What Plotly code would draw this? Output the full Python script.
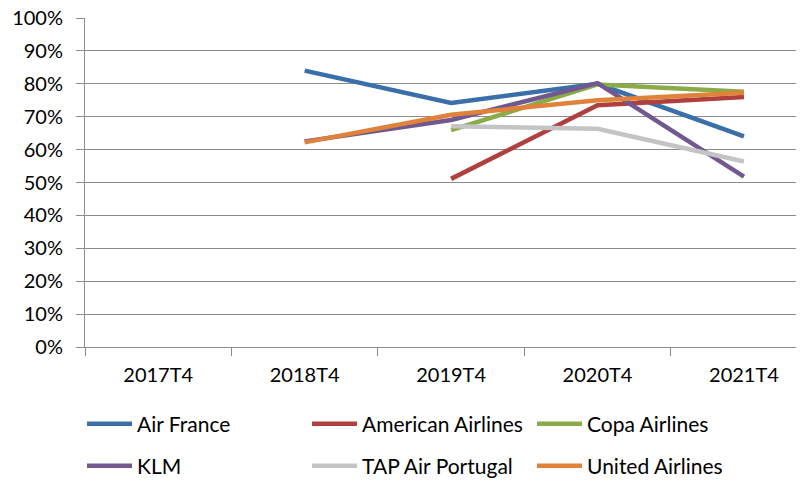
import plotly.graph_objects as go

categories = ["2017T4", "2018T4", "2019T4", "2020T4", "2021T4"]
air_france = [None, 0.84, 0.742, 0.80, 0.64]
american = [None, None, 0.511, 0.735, 0.76]
copa = [None, None, 0.659, 0.798, 0.776]
klm = [None, 0.625, 0.69, 0.802, 0.518]
tap = [None, None, 0.671, 0.663, 0.564]
united = [None, 0.622, 0.706, 0.75, 0.773]

series = [
    ("Air France", air_france, "#3A6FA9", "legend"),
    ("American Airlines", american, "#B0403D", "legend"),
    ("Copa Airlines", copa, "#8AAB47", "legend"),
    ("KLM", klm, "#71588F", "legend2"),
    ("TAP Air Portugal", tap, "#C4C4C4", "legend2"),
    ("United Airlines", united, "#E0823A", "legend2"),
]

FONT = "Lato, 'Liberation Sans', Arial, sans-serif"
W, H = 796, 476  # page body adds an 8px margin

fig = go.Figure()
for name, vals, color, lg in series:
    fig.add_trace(go.Scatter(
        x=categories, y=vals, name=name, mode="lines",
        line=dict(color=color, width=4.5),
        connectgaps=False, legend=lg,
    ))

legend_common = dict(
    orientation="h", xanchor="left", yanchor="middle",
    font=dict(family=FONT, size=21, color="#000000"),
    entrywidth=165, entrywidthmode="pixels",
    bgcolor="rgba(0,0,0,0)", itemwidth=45,
)

fig.update_layout(
    width=W, height=H,
    margin=dict(l=77, r=0, t=10, b=137, autoexpand=False),
    paper_bgcolor="white", plot_bgcolor="white",
    font=dict(family=FONT, size=20, color="#000000"),
    showlegend=True,
    legend=dict(x=74 / W, y=1 - 416 / H, xref="container", yref="container", **legend_common),
    legend2=dict(x=74 / W, y=1 - 458 / H, xref="container", yref="container", **legend_common),
    xaxis=dict(
        type="category", range=[-0.5, 4.41],
        showgrid=False, showline=True, linecolor="#8C8C8C", linewidth=1,
        ticks="outside", tickson="boundaries", ticklen=8, tickcolor="#8C8C8C",
        ticklabelstandoff=10, ticklabeloverflow="allow",
        tickfont=dict(family=FONT, size=20, color="#000000"),
    ),
    yaxis=dict(
        range=[0, 1], tickvals=[i / 10 for i in range(11)], tickformat=".0%",
        showgrid=True, gridcolor="#8C8C8C", gridwidth=1,
        showline=True, linecolor="#8C8C8C", linewidth=1,
        ticks="outside", ticklen=8, tickcolor="#8C8C8C",
        ticklabelstandoff=9, zeroline=False, ticklabeloverflow="allow",
        tickfont=dict(family=FONT, size=20, color="#000000"),
    ),
)

fig.write_html("out.html")
